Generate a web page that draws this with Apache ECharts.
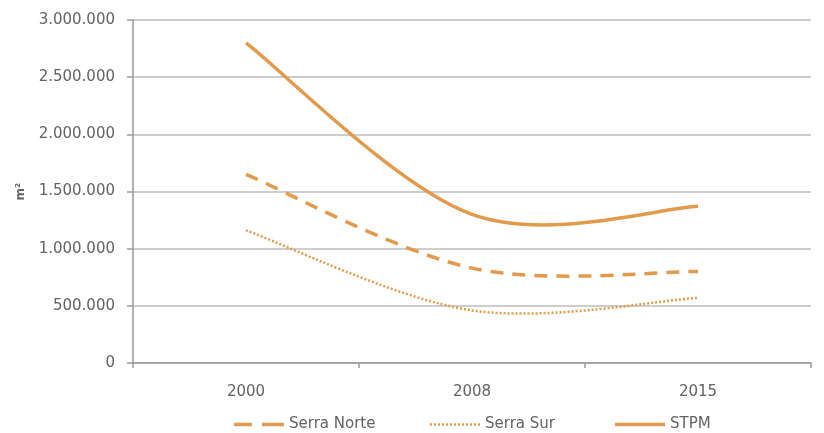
<!DOCTYPE html>
<html>
<head>
<meta charset="utf-8">
<script src="https://cdn.jsdelivr.net/npm/echarts@6/dist/echarts.min.js"></script>
<style>html,body{margin:0;padding:0;background:#fff;}#c{width:824px;height:433px;}</style>
</head>
<body>
<div id="c"></div>
<script>
const categories = ['2000', '2008', '2015'];
const serraNorte = [1650000, 830000, 800000];
const serraSur = [1160000, 460000, 570000];
const stpm = [2800000, 1300000, 1370000];
const seriesNames = ['Serra Norte', 'Serra Sur', 'STPM'];

const lineColor = '#E39A4C';
const textColor = '#636363';
const font = 'DejaVu Sans';

function fmt(v) {
  return String(Math.round(v)).replace(/\B(?=(\d{3})+(?!\d))/g, '.');
}

// Excel-like smoothed path (Catmull-Rom converted to cubic Bezier) through pixel points
function smoothPath(pts) {
  let d = 'M' + pts[0][0] + ' ' + pts[0][1];
  for (let i = 0; i < pts.length - 1; i++) {
    const p0 = pts[i - 1] || pts[i];
    const p1 = pts[i];
    const p2 = pts[i + 1];
    const p3 = pts[i + 2] || pts[i + 1];
    const c1x = p1[0] + (p2[0] - p0[0]) / 6, c1y = p1[1] + (p2[1] - p0[1]) / 6;
    const c2x = p2[0] - (p3[0] - p1[0]) / 6, c2y = p2[1] - (p3[1] - p1[1]) / 6;
    d += ' C' + c1x + ' ' + c1y + ' ' + c2x + ' ' + c2y + ' ' + p2[0] + ' ' + p2[1];
  }
  return d;
}

function curveSeries(name, values, width, dash) {
  return {
    name: name, type: 'custom', coordinateSystem: 'cartesian2d',
    data: values.map((v, i) => [i, v]),
    encode: {x: 0, y: 1},
    itemStyle: {color: lineColor},
    renderItem: function (params, api) {
      if (params.dataIndex !== 0) return null;
      const pts = values.map((v, i) => api.coord([i, v]));
      return {
        type: 'path',
        shape: {pathData: smoothPath(pts)},
        style: {fill: 'none', stroke: lineColor, lineWidth: width, lineDash: dash, lineCap: 'butt'}
      };
    }
  };
}

let dotted = 'path://';
for (let x = 0; x < 50; x += 4) dotted += 'M' + x + ' 0h2v2.5H' + x + 'z ';
const icons = [
  'path://M0 0h18v3.5H0z M28 0h22v3.5H28z',
  dotted.trim(),
  'path://M0 0h50v3.5H0z'
];

const chart = echarts.init(document.getElementById('c'), null, {renderer: 'canvas'});
const legendLefts = [229, 425, 610];
chart.setOption({
  animation: false,
  backgroundColor: '#fff',
  grid: {left: 133, right: 13, top: 20, bottom: 70, containLabel: false},
  legend: seriesNames.map((n, i) => ({
    data: [{name: n, icon: icons[i]}], left: legendLefts[i], top: 412, itemWidth: 50, itemHeight: 12,
    itemGap: 8,
    textStyle: {color: textColor, fontFamily: font, fontSize: 15}
  })),
  xAxis: {
    type: 'category', data: categories, boundaryGap: true,
    axisLine: {lineStyle: {color: '#9a9a9a', width: 1.5}},
    axisTick: {show: true, length: 5, lineStyle: {color: '#9a9a9a', width: 1.5}},
    axisLabel: {color: textColor, fontFamily: font, fontSize: 15, margin: 22},
    splitLine: {show: false}
  },
  yAxis: {
    type: 'value', min: 0, max: 3000000, interval: 500000,
    name: 'm²', nameLocation: 'middle', nameRotate: 90, nameGap: 106,
    nameTextStyle: {color: textColor, fontFamily: font, fontSize: 12, fontWeight: 'bold'},
    axisLine: {show: true, lineStyle: {color: '#9a9a9a', width: 1.5}},
    axisTick: {show: true, length: 6, lineStyle: {color: '#9a9a9a', width: 1.5}},
    axisLabel: {color: textColor, fontFamily: font, fontSize: 15, margin: 18, formatter: fmt},
    splitLine: {show: true, lineStyle: {color: '#bdbdbd', width: 1.5}}
  },
  series: [
    curveSeries('Serra Norte', serraNorte, 3.5, [13, 9]),
    curveSeries('Serra Sur', serraSur, 2.5, [2, 2]),
    curveSeries('STPM', stpm, 3.5, null)
  ]
});
</script>
</body>
</html>
